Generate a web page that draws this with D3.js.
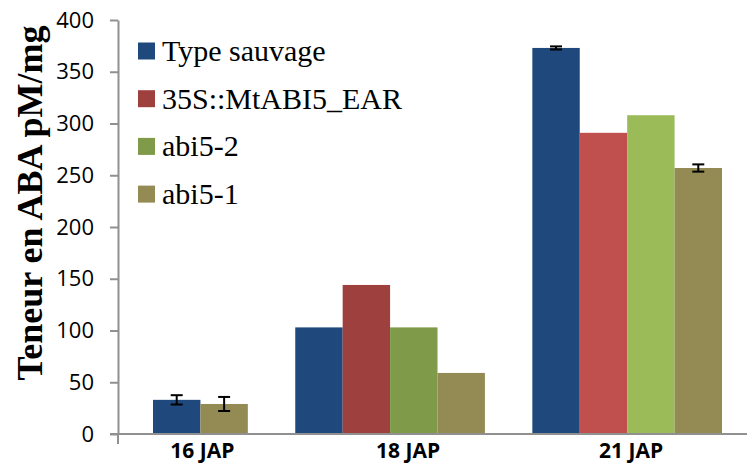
<!DOCTYPE html>
<html>
<head>
<meta charset="utf-8">
<script src="https://cdn.jsdelivr.net/npm/d3@7"></script>
<style>
  body { margin: 0; background: #fff; }
  .tick text { font-family: "Open Sans", sans-serif; font-size: 22px; fill: #000; }
  .yaxis .tick line { stroke: #909090; stroke-width: 2; }
  .yaxis path { stroke: #909090; stroke-width: 2; }
  .cat { font-family: "Open Sans", sans-serif; font-size: 21px; font-weight: bold; }
  .legend text { font-family: "Liberation Serif", "Times New Roman", serif; font-size: 30px; }
  .ytitle { font-family: "Liberation Serif", "Times New Roman", serif; font-size: 36px; font-weight: bold; }
</style>
</head>
<body>
<script>
// data
var categories = ["16 JAP", "18 JAP", "21 JAP"];
var seriesNames = ["Type sauvage", "35S::MtABI5_EAR", "abi5-2", "abi5-1"];
var typeSauvage = [33, 103, 373];
var mtabi5Ear   = [null, 144, 291];
var abi52       = [null, 103, 308];
var abi51       = [29, 59, 257];
var errTypeSauvage = [4.5, null, 1.5];
var errAbi51       = [6.8, null, 3.5];
var yTicks = [0, 50, 100, 150, 200, 250, 300, 350, 400];

var seriesValues = [typeSauvage, mtabi5Ear, abi52, abi51];
var seriesErrors = [errTypeSauvage, null, null, errAbi51];

// colours: 21 JAP uses the lighter red / green
var darkColors  = ["#1F497D", "#9E413E", "#7F9A48", "#948A54"];
var lightColors = ["#1F497D", "#C0504D", "#9BBB59", "#948A54"];
var catPalette  = [darkColors, darkColors, lightColors];
// the labels are not quite centred under their groups in the original
var labelShift = [2, 18, 4];

var W = 747, H = 466;
var svg = d3.select("body").append("svg")
    .attr("width", W)
    .attr("height", H);

var plotLeft = 118, plotTop = 20, plotBottom = 434;

var y = d3.scaleLinear()
    .domain([0, 400])
    .range([plotBottom, plotTop]);

// one slot per bar present, and one empty slot between categories
var bars = [], slots = [];
categories.forEach(function(c, ci) {
    if (ci > 0) slots.push("gap" + ci);
    seriesValues.forEach(function(vals, si) {
        if (vals[ci] == null) return;
        var key = c + "|" + si;
        slots.push(key);
        bars.push({key: key, cat: ci, s: si, v: vals[ci],
                   err: seriesErrors[si] ? seriesErrors[si][ci] : null});
    });
});

var x = d3.scaleBand()
    .domain(slots)
    .range([153, 722])
    .padding(0);

// y axis
var yAxis = d3.axisLeft(y)
    .tickValues(yTicks)
    .tickSize(8)
    .tickSizeOuter(0)
    .tickPadding(16);

var gy = svg.append("g")
    .attr("class", "yaxis")
    .attr("transform", "translate(" + plotLeft + ",0)")
    .call(yAxis);

// y axis continues a little below the category axis
svg.append("line")
    .attr("x1", plotLeft).attr("x2", plotLeft)
    .attr("y1", plotBottom).attr("y2", plotBottom + 10)
    .attr("stroke", "#909090").attr("stroke-width", 2);

// bars
svg.selectAll(".bar").data(bars).enter()
    .append("rect")
    .attr("class", "bar")
    .attr("x", function(d) { return x(d.key); })
    .attr("width", x.bandwidth())
    .attr("y", function(d) { return y(d.v); })
    .attr("height", function(d) { return y(0) - y(d.v); })
    .attr("fill", function(d) { return catPalette[d.cat][d.s]; });

// category axis line
svg.append("line")
    .attr("x1", plotLeft - 8).attr("x2", W)
    .attr("y1", plotBottom).attr("y2", plotBottom)
    .attr("stroke", "#909090").attr("stroke-width", 2);

// error bars
var eb = svg.selectAll(".err").data(bars.filter(function(d) { return d.err != null; }))
    .enter().append("g")
    .attr("class", "err")
    .attr("transform", function(d) { return "translate(" + (x(d.key) + x.bandwidth() / 2) + ",0)"; });
eb.append("line")
    .attr("y1", function(d) { return y(d.v + d.err); })
    .attr("y2", function(d) { return y(d.v - d.err); })
    .attr("stroke", "#000").attr("stroke-width", 2);
eb.append("line")
    .attr("x1", -6).attr("x2", 6)
    .attr("y1", function(d) { return y(d.v + d.err); })
    .attr("y2", function(d) { return y(d.v + d.err); })
    .attr("stroke", "#000").attr("stroke-width", 2);
eb.append("line")
    .attr("x1", -6).attr("x2", 6)
    .attr("y1", function(d) { return y(d.v - d.err); })
    .attr("y2", function(d) { return y(d.v - d.err); })
    .attr("stroke", "#000").attr("stroke-width", 2);

// category labels under their bars
svg.selectAll(".cat").data(categories).enter()
    .append("text")
    .attr("class", "cat")
    .attr("text-anchor", "middle")
    .attr("x", function(c, ci) {
        var ks = bars.filter(function(b) { return b.cat === ci; }).map(function(b) { return b.key; });
        return (x(ks[0]) + x(ks[ks.length - 1]) + x.bandwidth()) / 2 + labelShift[ci];
    })
    .attr("y", 458)
    .text(function(d) { return d; });

// y title
svg.append("text")
    .attr("class", "ytitle")
    .attr("text-anchor", "middle")
    .attr("transform", "translate(42," + ((plotTop + plotBottom) / 2 - 24) + ") rotate(-90)")
    .text("Teneur en ABA pM/mg");

// legend
var lg = svg.append("g").attr("class", "legend");
var li = lg.selectAll("g").data(seriesNames).enter()
    .append("g")
    .attr("transform", function(d, i) { return "translate(138," + (51 + i * 47.7) + ")"; });
li.append("rect")
    .attr("x", 0).attr("y", -8.5)
    .attr("width", 17).attr("height", 17)
    .attr("fill", function(d, i) { return darkColors[i]; });
li.append("text")
    .attr("x", 24).attr("y", 10)
    .text(function(d) { return d; });
</script>
</body>
</html>
